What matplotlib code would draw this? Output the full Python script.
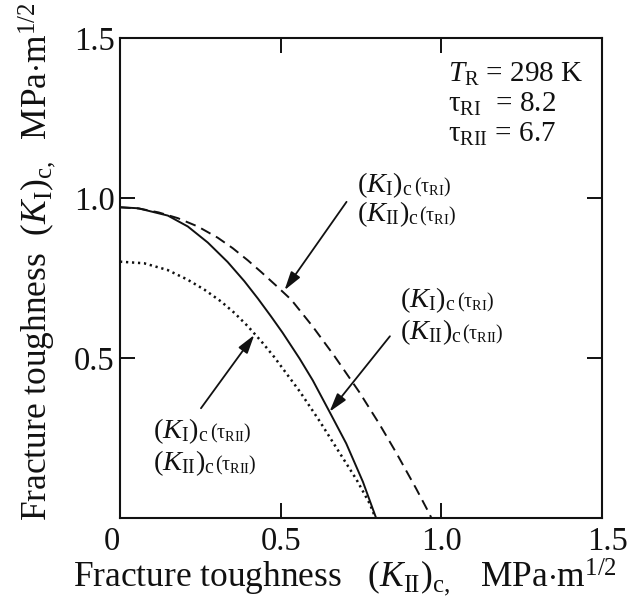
import matplotlib
matplotlib.use("Agg")
import matplotlib.pyplot as plt
from matplotlib.offsetbox import TextArea, HPacker, AnnotationBbox
from matplotlib.transforms import ScaledTranslation

plt.rcParams["font.family"] = ["Liberation Serif", "DejaVu Serif"]
plt.rcParams["mathtext.fontset"] = "custom"
plt.rcParams["mathtext.rm"] = "Liberation Serif"
plt.rcParams["mathtext.it"] = "Liberation Serif:italic"
plt.rcParams["mathtext.bf"] = "Liberation Serif:bold"

# Failure envelopes: (K_II)_c on x, (K_I)_c on y, MPa*m^(1/2)
solid_x = [0, 0.056, 0.149, 0.211, 0.273, 0.335, 0.387, 0.429, 0.47, 0.506,
           0.559, 0.60, 0.652, 0.704, 0.756, 0.797]
solid_y = [0.971, 0.968, 0.945, 0.911, 0.861, 0.800, 0.740, 0.686, 0.630, 0.579,
           0.498, 0.430, 0.332, 0.233, 0.113, 0.0]

dash_x = [0, 0.06, 0.12, 0.180, 0.242, 0.304, 0.351, 0.398, 0.439, 0.485,
          0.533, 0.600, 0.668, 0.745, 0.807, 0.859, 0.921, 0.963, 0.969]
dash_y = [0.971, 0.967, 0.955, 0.937, 0.911, 0.876, 0.843, 0.805, 0.769, 0.727,
          0.682, 0.598, 0.505, 0.393, 0.294, 0.205, 0.093, 0.013, 0.0]

dot_x = [0, 0.075, 0.148, 0.21, 0.262, 0.314, 0.356, 0.397, 0.439, 0.48,
         0.559, 0.621, 0.673, 0.736, 0.777, 0.795]
dot_y = [0.801, 0.796, 0.775, 0.745, 0.714, 0.677, 0.641, 0.600, 0.553, 0.503,
         0.396, 0.303, 0.220, 0.120, 0.045, 0.0]

tick_vals = [0, 0.5, 1.0, 1.5]
x_tick_labels = ["0", "0.5", "1.0", "1.5"]
y_tick_labels = ["", "0.5", "1.0", "1.5"]

conditions = [r"$T_{\mathrm{R}}$ = 298 K",
              r"$\mathrm{τ}_{\mathrm{RI}}$  = 8.2",
              r"$\mathrm{τ}_{\mathrm{RII}}$ = 6.7"]

W, H = 629, 597
fig = plt.figure(figsize=(W / 100, H / 100), dpi=100)
ax = fig.add_axes([120 / W, (H - 518) / H, (602 - 120) / W, (518 - 38) / H])

ink = "#111111"
ax.plot(solid_x, solid_y, color=ink, lw=1.4, solid_capstyle="butt")
ax.plot(dash_x, dash_y, color=ink, lw=1.4, dashes=(5.5, 3.2))
ax.plot(dot_x, dot_y, color=ink, lw=1.8, dashes=(0.9, 1.5))

ax.set_xlim(0, 1.5)
ax.set_ylim(0, 1.5)
ax.set_xticks(tick_vals)
ax.set_xticklabels(x_tick_labels)
ax.set_yticks(tick_vals)
ax.set_yticklabels(y_tick_labels)
ax.tick_params(direction="in", top=True, right=True, length=11, width=1.4,
               labelsize=23.5, colors=ink)
ax.tick_params(axis="x", pad=6)
ax.tick_params(axis="y", pad=4)
for s in ax.spines.values():
    s.set_linewidth(1.5)
    s.set_color(ink)

# nudge the corner tick labels outward
xl = ax.get_xticklabels()
xl[0].set_transform(xl[0].get_transform() + ScaledTranslation(-8 / 100, 0, fig.dpi_scale_trans))
xl[-1].set_transform(xl[-1].get_transform() + ScaledTranslation(5 / 100, 0, fig.dpi_scale_trans))

ax.set_xlabel(r"Fracture toughness   $(K_{\mathrm{II}})_{\mathrm{c},}$   MPa$\cdot$m$^{1/2}$",
              fontsize=25.5, color=ink, va="center")
ax.xaxis.set_label_coords((345 - 120) / 482, -(577 - 518) / 480)
ax.set_ylabel(r"Fracture toughness  $(K_{\mathrm{I}})_{\mathrm{c},}$  MPa$\cdot$m$^{1/2}$",
              fontsize=25.5, color=ink, va="center")
ax.yaxis.set_label_coords(-(120 - 37) / 482, (518 - 262) / 480)

# test conditions
for i, s in enumerate(conditions):
    ax.text(1.02, 1.3625 - i * 0.094, s, fontsize=21, color=ink, va="baseline", ha="left")


def curve_label(x, y, main, small):
    a = TextArea(main, textprops=dict(fontsize=20.5, color=ink))
    b = TextArea(small, textprops=dict(fontsize=14.5, color=ink))
    box = HPacker(children=[a, b], align="baseline", pad=0, sep=0)
    ab = AnnotationBbox(box, (x, y), xycoords="data", box_alignment=(0, 0.5),
                        frameon=False, pad=0)
    ax.add_artist(ab)


KI = r"$(K_{\mathrm{I}})_{\mathrm{c}}$ "
KII = r"$(K_{\mathrm{II}})_{\mathrm{c}}$"
tRI = r"$(\mathrm{τ}_{\mathrm{RI}})$"
tRII = r"$(\mathrm{τ}_{\mathrm{RII}})$"

# px rows -> data: y = (518 - px) / 320
curve_label(0.737, (518 - 185) / 320, KI, tRI)
curve_label(0.737, (518 - 214) / 320, KII, tRI)
curve_label(0.871, (518 - 300) / 320, KI, tRI)
curve_label(0.871, (518 - 332) / 320, KII, tRII)
curve_label(0.104, (518 - 431) / 320, KI, tRII)
curve_label(0.104, (518 - 463) / 320, KII, tRII)

arrow = dict(arrowstyle="-|>,head_length=0.75,head_width=0.22", lw=1.3, color=ink,
             mutation_scale=15, shrinkA=0, shrinkB=0)
ax.annotate("", xy=(0.512, 0.712), xytext=(0.705, 0.988), arrowprops=arrow)
ax.annotate("", xy=(0.652, 0.332), xytext=(0.84, 0.568), arrowprops=arrow)
ax.annotate("", xy=(0.418, 0.572), xytext=(0.252, 0.343), arrowprops=arrow)

fig.savefig("out.png", dpi=100, facecolor="white")
